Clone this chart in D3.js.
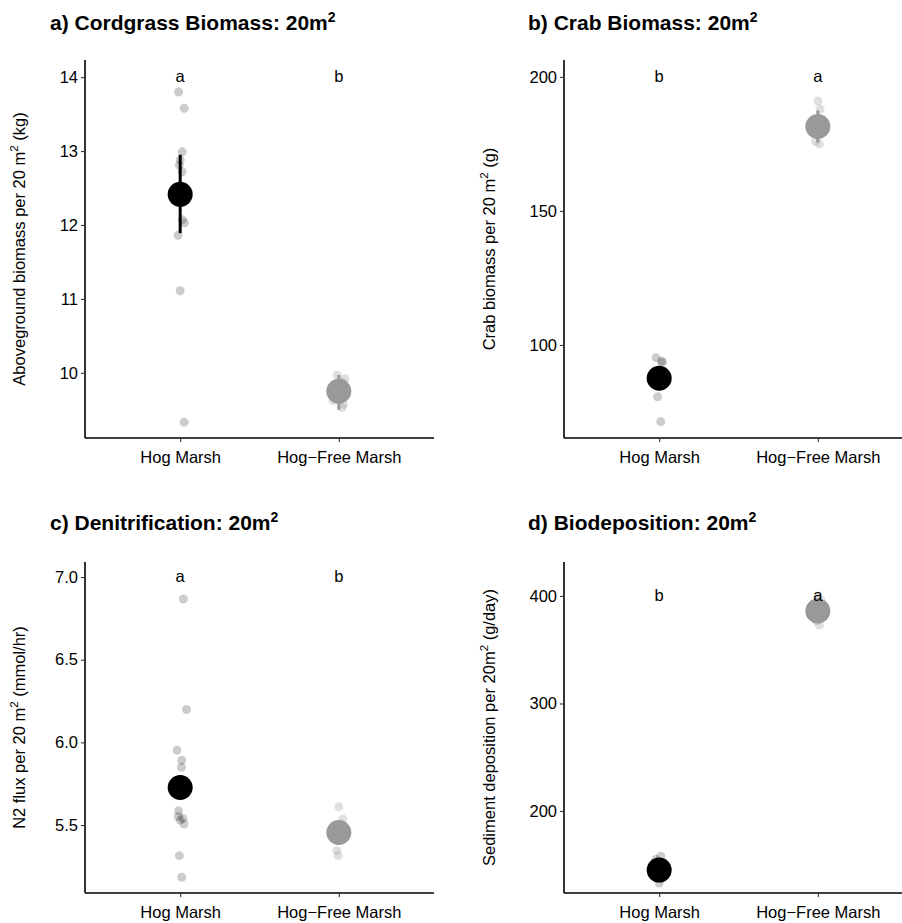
<!DOCTYPE html>
<html><head><meta charset="utf-8">
<script src="https://cdn.jsdelivr.net/npm/d3@7"></script>
<style>body{margin:0;background:#fff}svg{display:block}text{font-family:"Liberation Sans",Arial,sans-serif}</style>
</head><body><svg id="c" width="902" height="923"></svg>
<script>
const categories = ["Hog Marsh", "Hog\u2212Free Marsh"];

// Panel a: Cordgrass biomass (kg)
const aHogPts = [13.80, 13.58, 12.99, 12.88, 12.81, 12.72, 12.07, 12.03, 11.86, 11.11, 9.33];
const aHogJit = [-0.01, 0.025, 0.013, 0.0, -0.005, 0.012, 0.013, 0.027, -0.013, 0.0, 0.025];
const aFreePts = [9.97, 9.92, 9.88, 9.80, 9.72, 9.62, 9.57, 9.53];
const aFreeJit = [-0.01, 0.04, 0.02, -0.03, 0.03, -0.035, 0.03, 0.02];
const aMean = [12.415, 9.75];
const aLow = [11.89, 9.50];
const aHigh = [12.95, 9.97];
const aTicks = [10, 11, 12, 13, 14];
const aLetters = ["a", "b"];
const aLetterY = 14;

// Panel b: Crab biomass (g)
const bHogPts = [95.3, 94.0, 93.5, 80.7, 71.4];
const bHogJit = [-0.02, 0.015, 0.02, -0.01, 0.01];
const bFreePts = [191, 188, 184, 179, 176, 175];
const bFreeJit = [0.0, 0.015, -0.02, 0.02, -0.015, 0.01];
const bMean = [87.6, 181.5];
const bLow = [84.5, 175.5];
const bHigh = [90.7, 187.5];
const bTicks = [100, 150, 200];
const bLetters = ["b", "a"];
const bLetterY = 200;

// Panel c: Denitrification (mmol/hr)
const cHogPts = [6.867, 6.199, 5.952, 5.892, 5.849, 5.586, 5.552, 5.54, 5.53, 5.506, 5.315, 5.184];
const cHogJit = [0.02, 0.04, -0.02, 0.01, 0.008, -0.01, -0.012, 0.018, 0.0, 0.024, -0.005, 0.01];
const cFreePts = [5.61, 5.536, 5.50, 5.42, 5.345, 5.315];
const cFreeJit = [0.0, 0.025, -0.02, 0.02, -0.012, -0.005];
const cMean = [5.727, 5.455];
const cLow = [5.66, 5.40];
const cHigh = [5.79, 5.51];
const cTicks = [5.5, 6.0, 6.5, 7.0];
const cLetters = ["a", "b"];
const cLetterY = 7.0;

// Panel d: Biodeposition (g/day)
const dHogPts = [158, 155, 150, 142, 138, 133];
const dHogJit = [0.01, -0.02, 0.02, -0.015, 0.015, 0.0];
const dFreePts = [400, 396, 391, 384, 377, 373];
const dFreeJit = [0.0, 0.02, -0.02, 0.015, -0.01, 0.01];
const dMean = [145, 386];
const dLow = [140, 379];
const dHigh = [150, 393];
const dTicks = [200, 300, 400];
const dLetters = ["b", "a"];
const dLetterY = 400;

const svg = d3.select("#c");
const meanColors = ["#000000", "#999999"];
const ptColors = ["#000000", "#999999"];
const ptOpacity = [0.2, 0.3];

function panel(o) {
  const g = svg.append("g");
  const x = d3.scaleLinear().domain([0.4, 2.6]).range([o.x0, o.x1]);
  const y = d3.scaleLinear().domain(o.ydom).range([o.y1, o.y0]);
  // title
  const t = g.append("text").attr("x", o.tx).attr("y", o.ty)
    .attr("font-size", 21).attr("font-weight", "bold").attr("fill", "#000");
  t.append("tspan").text(o.title);
  t.append("tspan").attr("font-size", 14).attr("dy", -8).text("2");
  // axes
  const ya = d3.axisLeft(y).tickValues(o.ticks).tickSize(4).tickPadding(3).tickFormat(o.fmt);
  const yg = g.append("g").attr("transform", `translate(${o.x0},0)`).call(ya);
  const xa = d3.axisBottom(x).tickValues([1, 2]).tickSize(4).tickPadding(4).tickFormat((d, i) => categories[i]);
  const xg = g.append("g").attr("transform", `translate(0,${o.y1})`).call(xa);
  [yg, xg].forEach(a => {
    a.select(".domain").attr("stroke", "#000").attr("stroke-width", 1.6);
    a.selectAll(".tick line").attr("stroke", "#333").attr("stroke-width", 1.1);
    a.selectAll(".tick text").attr("fill", "#000").attr("font-size", 16.5).attr("font-family", '"Liberation Sans",Arial,sans-serif');
  });
  yg.select(".domain").attr("d", `M0,${o.y0}V${o.y1}`);
  xg.select(".domain").attr("d", `M${o.x0},0H${o.x1}`);
  xg.selectAll(".tick text").attr("dy", "1.05em");
  // y title
  const yt = g.append("text").attr("transform", `translate(${o.ylx},${(o.y0 + o.y1) / 2}) rotate(-90)`)
    .attr("text-anchor", "middle").attr("font-size", 16.5).attr("fill", "#000");
  yt.append("tspan").text(o.ylab1);
  yt.append("tspan").attr("font-size", 11.5).attr("dy", -7).text("2");
  yt.append("tspan").attr("dy", 7).text(o.ylab2);
  // raw points
  const sets = [[o.hog, o.hogJit, 0], [o.free, o.freeJit, 1]];
  sets.forEach(([vals, jit, k]) => {
    g.append("g").selectAll("circle").data(vals).join("circle")
      .attr("cx", (d, i) => x(k + 1 + jit[i])).attr("cy", d => y(d)).attr("r", 4.5)
      .attr("fill", ptColors[k]).attr("fill-opacity", ptOpacity[k]);
  });
  // error bars
  g.append("g").selectAll("line").data([0, 1]).join("line")
    .attr("x1", k => x(k + 1)).attr("x2", k => x(k + 1))
    .attr("y1", k => y(o.low[k])).attr("y2", k => y(o.high[k]))
    .attr("stroke", k => meanColors[k]).attr("stroke-width", 3);
  // means
  g.append("g").selectAll("circle").data([0, 1]).join("circle")
    .attr("cx", k => x(k + 1)).attr("cy", k => y(o.mean[k])).attr("r", 12.5)
    .attr("fill", k => meanColors[k]);
  // letters (on top)
  g.append("g").selectAll("text").data(o.letters).join("text")
    .attr("x", (d, i) => x(i + 1)).attr("y", y(o.letterY)).attr("dy", "0.3em")
    .attr("text-anchor", "middle").attr("font-size", 16.5).attr("fill", "#000").text(d => d);
}

panel({x0: 85, x1: 434, y0: 60, y1: 438, ydom: [9.1175, 14.2325], ticks: aTicks, fmt: d3.format("d"),
  tx: 50, ty: 30, title: "a) Cordgrass Biomass: 20m", ylx: 25, ylab1: "Aboveground biomass per 20 m", ylab2: " (kg)",
  hog: aHogPts, hogJit: aHogJit, free: aFreePts, freeJit: aFreeJit, mean: aMean, low: aLow, high: aHigh, letters: aLetters, letterY: aLetterY});
panel({x0: 564, x1: 913, y0: 60, y1: 438, ydom: [65.3, 206.3], ticks: bTicks, fmt: d3.format("d"),
  tx: 528, ty: 30, title: "b) Crab Biomass: 20m", ylx: 495, ylab1: "Crab biomass per 20 m", ylab2: " (g)",
  hog: bHogPts, hogJit: bHogJit, free: bFreePts, freeJit: bFreeJit, mean: bMean, low: bLow, high: bHigh, letters: bLetters, letterY: bLetterY});
panel({x0: 85, x1: 434, y0: 562, y1: 893, ydom: [5.089, 7.091], ticks: cTicks, fmt: d3.format(".1f"),
  tx: 50, ty: 530, title: "c) Denitrification: 20m", ylx: 25, ylab1: "N2 flux per 20 m", ylab2: " (mmol/hr)",
  hog: cHogPts, hogJit: cHogJit, free: cFreePts, freeJit: cFreeJit, mean: cMean, low: cLow, high: cHigh, letters: cLetters, letterY: cLetterY});
panel({x0: 564, x1: 913, y0: 562, y1: 893, ydom: [123.7, 431.6], ticks: dTicks, fmt: d3.format("d"),
  tx: 528, ty: 530, title: "d) Biodeposition: 20m", ylx: 495, ylab1: "Sediment deposition per 20m", ylab2: " (g/day)",
  hog: dHogPts, hogJit: dHogJit, free: dFreePts, freeJit: dFreeJit, mean: dMean, low: dLow, high: dHigh, letters: dLetters, letterY: dLetterY});
</script></body></html>
